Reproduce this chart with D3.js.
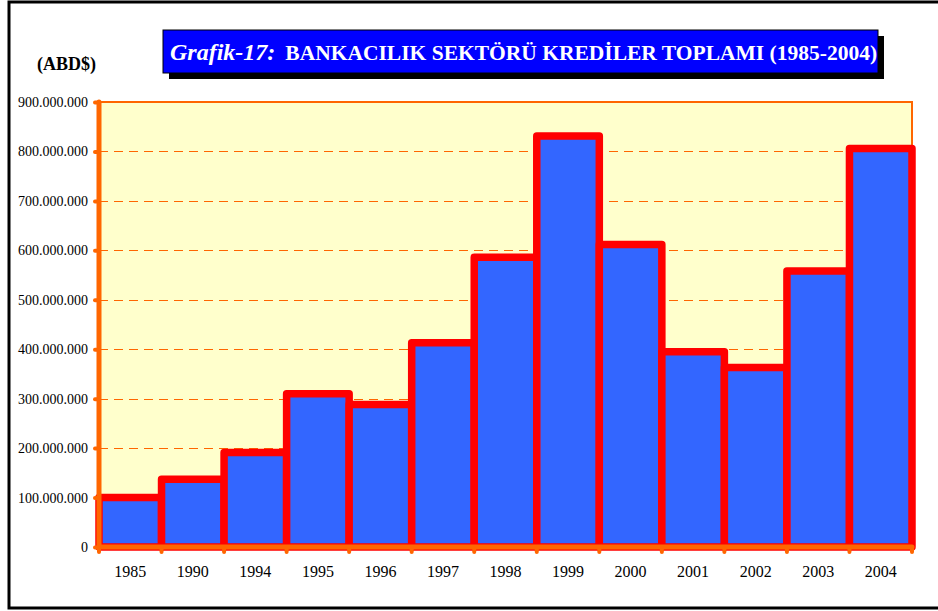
<!DOCTYPE html>
<html><head><meta charset="utf-8">
<script src="https://cdn.jsdelivr.net/npm/d3@7/dist/d3.min.js"></script>
<style>html,body{margin:0;padding:0;background:#fff;}svg{display:block;}</style>
</head><body>
<script>
const years = ["1985","1990","1994","1995","1996","1997","1998","1999","2000","2001","2002","2003","2004"];
const credits = [100000000,137000000,191000000,310000000,288000000,413000000,586000000,831000000,612000000,395000000,363000000,558000000,806000000];
const yTicks = [0,100000000,200000000,300000000,400000000,500000000,600000000,700000000,800000000,900000000];
const titleItalic = "Grafik-17:";
const titleMain = "BANKACILIK SEKTÖRÜ KREDİLER TOPLAMI (1985-2004)";
const unitLabel = "(ABD$)";

const FONT = "'Liberation Serif', 'Times New Roman', serif";
const W = 938, H = 611;
const m = {left: 99, right: 912, top: 102, bottom: 547};
const svg = d3.select("body").append("svg").attr("width", W).attr("height", H);

// outer frame
svg.append("rect").attr("x", 9).attr("y", 2).attr("width", 940).attr("height", 606)
  .attr("fill", "#fff").attr("stroke", "#000").attr("stroke-width", 3);

const x = d3.scaleBand().domain(years).range([m.left, m.right]).padding(0);
const y = d3.scaleLinear().domain([0, 900000000]).range([m.bottom, m.top]);
const fmt = v => v === 0 ? "0" : d3.format(",")(v).replace(/,/g, ".");

// plot background
svg.append("rect").attr("x", m.left).attr("y", m.top).attr("width", m.right - m.left)
  .attr("height", m.bottom - m.top).attr("fill", "#FFFFCC");

// grid
svg.append("g").selectAll("line").data(yTicks.filter(d => d > 0 && d < 900000000)).join("line")
  .attr("x1", m.left).attr("x2", m.right).attr("y1", d => Math.round(y(d)) + 0.5).attr("y2", d => Math.round(y(d)) + 0.5)
  .attr("stroke", "#FF6600").attr("stroke-width", 1.2).attr("stroke-dasharray", "9,6");

// top & right border
svg.append("path").attr("d", `M${m.left},${m.top}H${m.right}V${m.bottom}`)
  .attr("fill", "none").attr("stroke", "#FF6600").attr("stroke-width", 2);

// bars
svg.append("g").selectAll("rect").data(years).join("rect")
  .attr("x", d => x(d)).attr("width", x.bandwidth())
  .attr("y", (d, i) => y(credits[i])).attr("height", (d, i) => y(0) - y(credits[i]))
  .attr("fill", "#3366FF").attr("stroke", "#FF0000").attr("stroke-width", 7.5)
  .attr("stroke-linejoin", "round");

// y axis
const yAxis = svg.append("g").attr("transform", `translate(${m.left},0)`)
  .call(d3.axisLeft(y).tickValues(yTicks).tickFormat(fmt).tickSize(4).tickPadding(7));
yAxis.attr("font-family", null).attr("font-size", null);
yAxis.select(".domain").remove();
yAxis.selectAll(".tick line").attr("stroke", "#FF6600").attr("stroke-width", 4).attr("stroke-linecap", "round");
yAxis.selectAll(".tick text").style("font-family", FONT).style("font-size", "14px").attr("fill", "#000");
svg.append("line").attr("x1", m.left).attr("x2", m.left).attr("y1", m.top).attr("y2", m.bottom)
  .attr("stroke", "#FF6600").attr("stroke-width", 5).attr("stroke-linecap", "round");

// x axis
const xAxis = svg.append("g").attr("transform", `translate(0,${m.bottom})`)
  .call(d3.axisBottom(x).tickSize(0).tickPadding(19));
xAxis.attr("font-family", null).attr("font-size", null);
xAxis.select(".domain").remove();
xAxis.selectAll(".tick text").style("font-family", FONT).style("font-size", "16px").attr("fill", "#000");
svg.append("g").selectAll("line").data(years.concat(["_end"])).join("line")
  .attr("x1", (d, i) => m.left + i * x.bandwidth()).attr("x2", (d, i) => m.left + i * x.bandwidth())
  .attr("y1", m.bottom).attr("y2", m.bottom + 5)
  .attr("stroke", "#FF6600").attr("stroke-width", 4).attr("stroke-linecap", "round");
svg.append("line").attr("x1", m.left).attr("x2", m.right).attr("y1", m.bottom).attr("y2", m.bottom)
  .attr("stroke", "#FF6600").attr("stroke-width", 5).attr("stroke-linecap", "round");

// unit label
svg.append("text").attr("x", 37).attr("y", 70).text(unitLabel)
  .style("font-family", FONT).style("font-weight", "bold").style("font-size", "18px").attr("fill", "#000");

// title box
const tb = {x: 163, y: 30, w: 715, h: 43};
svg.append("rect").attr("x", tb.x + 6).attr("y", tb.y + 6).attr("width", tb.w).attr("height", tb.h).attr("fill", "#000");
svg.append("rect").attr("x", tb.x).attr("y", tb.y).attr("width", tb.w).attr("height", tb.h)
  .attr("fill", "#0000FF").attr("stroke", "#000").attr("stroke-width", 1);
const tt = svg.append("text").attr("x", 170).attr("y", 59.5).attr("fill", "#fff").style("font-family", FONT);
tt.append("tspan").text(titleItalic).style("font-style", "italic").style("font-weight", "bold").style("font-size", "24px");
tt.append("tspan").text(titleMain).style("font-weight", "bold").style("font-size", "21.5px").attr("dx", 10);
</script>
</body></html>
